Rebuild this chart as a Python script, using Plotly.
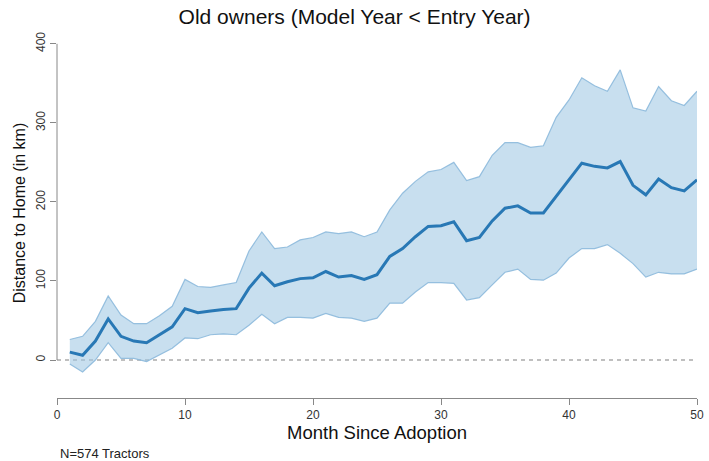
import plotly.graph_objects as go

months = list(range(1, 51))
mean_km = [10, 6, 24, 52, 30, 24, 22, 32, 42, 65,
           60, 62, 64, 65, 91, 110, 94, 99, 103, 104,
           112, 105, 107, 102, 108, 131, 141, 156, 169, 170,
           175, 151, 155, 176, 192, 195, 186, 186, 207, 228,
           249, 245, 243, 251, 221, 209, 229, 218, 214, 228]
upper_km = [26, 30, 49, 81, 57, 46, 46, 56, 68, 102,
            93, 92, 95, 98, 138, 162, 141, 143, 152, 155,
            162, 160, 162, 156, 162, 190, 211, 226, 238, 241,
            250, 227, 232, 259, 275, 275, 269, 271, 307, 329,
            357, 347, 340, 367, 319, 315, 346, 328, 322, 340]
lower_km = [-5, -15, 0, 22, 2, 2, -2, 6, 15, 28,
            27, 32, 33, 32, 44, 58, 46, 54, 54, 53,
            59, 54, 53, 49, 53, 72, 72, 86, 98, 98,
            97, 76, 79, 95, 111, 115, 102, 101, 110, 129,
            141, 141, 146, 135, 122, 105, 111, 109, 109, 115]
x_ticks = [0, 10, 20, 30, 40, 50]
y_ticks = [0, 100, 200, 300, 400]

band_edge = "rgba(140,185,220,0.9)"
band_fill = "rgba(160,200,228,0.58)"
line_col = "#2878b5"
axis_col = "#888888"
font = "Liberation Sans, Arial, sans-serif"

fig = go.Figure()
fig.add_trace(go.Scatter(x=months, y=lower_km, mode="lines",
                         line=dict(color=band_edge, width=1.2), showlegend=False,
                         hoverinfo="skip"))
fig.add_trace(go.Scatter(x=months, y=upper_km, mode="lines", fill="tonexty",
                         fillcolor=band_fill,
                         line=dict(color=band_edge, width=1.2), showlegend=False,
                         hoverinfo="skip"))
fig.add_trace(go.Scatter(x=months, y=mean_km, mode="lines",
                         line=dict(color=line_col, width=3), showlegend=False))

# zero reference line
fig.add_shape(type="line", xref="x", yref="y", x0=0, x1=50, y0=0, y1=0,
              line=dict(color="#aaaaaa", width=1.5, dash="4px,4px"), layer="below")
# y axis line (spans tick range only)
fig.add_shape(type="line", xref="paper", yref="y", x0=0, x1=0, y0=0, y1=400,
              line=dict(color=axis_col, width=1))

fig.update_layout(
    width=709, height=461,
    margin=dict(l=57, r=12, t=28, b=63, autoexpand=False),
    paper_bgcolor="white", plot_bgcolor="white",
    font=dict(family=font, color="#222222"),
    title=dict(text="Old owners (Model Year < Entry Year)", xref="paper", x=0.465,
               xanchor="center", yref="container", y=0.963, yanchor="middle",
               automargin=False, font=dict(size=21, color="#111111")),
    xaxis=dict(range=[0, 50], tickvals=x_ticks, ticks="outside", ticklen=6,
               tickcolor=axis_col, showline=True, linecolor=axis_col, linewidth=1,
               showgrid=False, zeroline=False, automargin=False,
               tickfont=dict(size=12, color="#333333"),
               title=dict(text="Month Since Adoption", font=dict(size=18.5, color="#111111"),
                          standoff=0)),
    yaxis=dict(range=[-48, 420], tickvals=y_ticks, ticks="outside", ticklen=6,
               tickcolor=axis_col, showline=False, showgrid=False, zeroline=False,
               automargin=False, tickangle=-90, tickfont=dict(size=12, color="#333333"),
               title=dict(text="Distance to Home (in km)", font=dict(size=16, color="#111111"),
                          standoff=4)),
    annotations=[dict(text="N=574 Tractors", xref="paper", yref="paper",
                      x=0.002, y=-0.149, xanchor="left", yanchor="middle",
                      showarrow=False, font=dict(size=13, color="#222222"))],
)

fig.write_html("out.html", config={"displayModeBar": False},
               post_script="document.body.style.margin='0';document.body.style.padding='0';")
